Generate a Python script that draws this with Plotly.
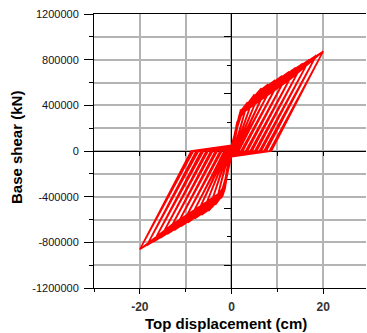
import plotly.graph_objects as go

# ---- data (forces in kN, displacements in cm) ----
amp = [2, 3.5, 5, 6.5, 8, 9.5, 11, 12.5, 14, 15.5, 17, 18.5, 20]
pos_peak = [360000, 427000, 495000, 549000, 585000, 621000, 657000, 693000, 729000, 765000, 801000, 837000, 872000]
# cycle 1 reloading branch
pos_knee_x = [1.2, 1.6, 1.9, 2.0, 2.1, 2.1, 2.2, 2.2, 2.2, 2.3, 2.3, 2.3, 2.4]
pos_knee_f = [250000, 300000, 330000, 340000, 350000, 350000, 355000, 355000, 360000, 360000, 360000, 365000, 365000]
pos_mid_x = [1.6, 2.6, 3.5, 4.3, 5.1, 5.8, 6.6, 7.4, 8.1, 8.9, 9.6, 10.4, 11.1]
pos_mid_f = [300000, 370000, 405000, 440000, 475000, 500000, 520000, 540000, 560000, 580000, 600000, 620000, 640000]
pos_res = [0.2, 0.4, 0.6, 0.8, 1.0, 1.3, 2.1, 3.1, 4.1, 5.1, 6.1, 7.1, 8.3]
# cycle 2 (softer) reloading branch
pos_knee2_x = [1.0, 1.4, 1.7, 1.8, 1.9, 2.0, 2.0, 2.1, 2.1, 2.2, 2.2, 2.2, 2.3]
pos_knee2_f = [200000, 260000, 290000, 300000, 310000, 315000, 320000, 320000, 325000, 325000, 330000, 330000, 330000]
pos_mid2_x = [1.5, 2.8, 3.8, 4.8, 5.8, 6.7, 7.6, 8.5, 9.4, 10.3, 11.2, 12.1, 13.0]
pos_mid2_f = [290000, 350000, 390000, 420000, 450000, 475000, 500000, 520000, 540000, 565000, 590000, 610000, 635000]
pos_res2 = [0.35, 0.6, 0.8, 1.0, 1.3, 1.6, 2.5, 3.5, 4.5, 5.5, 6.5, 7.6, 8.7]
# cycle 3 reloading branch, through the previous peak
pos_via_x = [1.5, 2.0, 3.5, 5.0, 6.5, 8.0, 9.5, 11.0, 12.5, 14.0, 15.5, 17.0, 18.5]
pos_via_f = [280000, 350000, 415000, 480000, 535000, 572000, 608000, 645000, 680000, 716000, 752000, 788000, 824000]
pos_res3 = [0.3, 0.5, 0.7, 0.9, 1.15, 1.45, 2.3, 3.3, 4.3, 5.3, 6.3, 7.35, 8.5]
# cycle 4 reloading branch (two intermediate points)
pos_a_x = [1.4, 2.2, 2.8, 3.4, 4.0, 4.6, 5.2, 5.8, 6.4, 7.0, 7.6, 8.2, 8.8]
pos_a_f = [260000, 329000, 356000, 383000, 410000, 437000, 464000, 491000, 507000, 521000, 536000, 550000, 565000]
pos_b_x = [1.7, 2.8, 3.9, 5.0, 6.1, 7.2, 8.3, 9.4, 10.5, 11.6, 12.7, 13.8, 15.0]
pos_b_f = [315000, 381000, 430000, 480000, 525000, 551000, 578000, 604000, 630000, 657000, 683000, 710000, 738000]
pos_res4 = [0.25, 0.45, 0.65, 0.85, 1.1, 1.4, 2.2, 3.2, 4.2, 5.2, 6.2, 7.25, 8.4]
pinch_neg = [-20000, -25000, -30000, -35000, -40000, -45000, -50000, -50000, -50000, -50000, -50000, -50000, -50000]

neg_amp = [-2, -3.5, -5, -6.5, -8, -9.5, -11, -12.5, -14, -15.5, -17, -18.5, -20]
neg_peak = [-400000, -470000, -525000, -560000, -593000, -627000, -660000, -694000, -728000, -761000, -795000, -828000, -862000]
neg_knee_x = [-1.3, -1.6, -1.8, -1.9, -2.0, -2.0, -2.1, -2.1, -2.2, -2.2, -2.2, -2.3, -2.3]
neg_knee_f = [-300000, -340000, -370000, -380000, -390000, -395000, -400000, -400000, -405000, -405000, -410000, -410000, -410000]
neg_mid_x = [-1.7, -2.6, -3.5, -4.3, -5.1, -5.8, -6.6, -7.4, -8.1, -8.9, -9.6, -10.4, -11.1]
neg_mid_f = [-350000, -405000, -445000, -480000, -503000, -520000, -537000, -555000, -570000, -588000, -605000, -622000, -640000]
neg_res = [-0.2, -0.4, -0.6, -0.8, -1.0, -1.3, -2.1, -3.1, -4.1, -5.1, -6.1, -7.2, -8.3]
neg_knee2_x = [-1.1, -1.4, -1.6, -1.7, -1.8, -1.9, -1.9, -2.0, -2.0, -2.1, -2.1, -2.1, -2.2]
neg_knee2_f = [-250000, -290000, -320000, -330000, -340000, -345000, -350000, -350000, -355000, -355000, -360000, -360000, -360000]
neg_mid2_x = [-1.6, -2.8, -3.8, -4.8, -5.8, -6.7, -7.6, -8.5, -9.4, -10.3, -11.2, -12.1, -13.0]
neg_mid2_f = [-330000, -380000, -420000, -450000, -475000, -500000, -520000, -540000, -560000, -580000, -600000, -620000, -645000]
neg_res2 = [-0.35, -0.6, -0.8, -1.0, -1.3, -1.6, -2.5, -3.5, -4.5, -5.5, -6.6, -7.7, -8.8]
neg_via_x = [-1.5, -2.0, -3.5, -5.0, -6.5, -8.0, -9.5, -11.0, -12.5, -14.0, -15.5, -17.0, -18.5]
neg_via_f = [-330000, -390000, -460000, -515000, -550000, -583000, -617000, -650000, -684000, -718000, -751000, -785000, -818000]
neg_res3 = [-0.3, -0.5, -0.7, -0.9, -1.15, -1.45, -2.3, -3.3, -4.3, -5.3, -6.35, -7.45, -8.55]
neg_a_x = [-1.4, -2.2, -2.8, -3.4, -4.0, -4.6, -5.2, -5.8, -6.4, -7.0, -7.6, -8.2, -8.8]
neg_a_f = [-330000, -370000, -397000, -424000, -451000, -477000, -490000, -504000, -517000, -531000, -544000, -558000, -571000]
neg_b_x = [-1.7, -2.8, -3.9, -5.0, -6.1, -7.2, -8.3, -9.4, -10.5, -11.6, -12.7, -13.8, -15.0]
neg_b_f = [-365000, -422000, -471000, -511000, -536000, -560000, -585000, -610000, -634000, -659000, -683000, -708000, -735000]
neg_res4 = [-0.25, -0.45, -0.65, -0.85, -1.1, -1.4, -2.2, -3.2, -4.2, -5.2, -6.2, -7.3, -8.45]
pinch_pos = [20000, 25000, 30000, 35000, 40000, 45000, 50000, 50000, 50000, 50000, 50000, 50000, 50000]

x_tick_vals = [-20, 0, 20]
x_tick_text = ["-20", "0", "20"]
y_tick_vals = [-1200000, -800000, -400000, 0, 400000, 800000, 1200000]
y_tick_text = ["-1200000", "-800000", "-400000", "0", "400000", "800000", "1200000"]

# ---- assemble the hysteresis path (four cycles per amplitude) ----
xs, ys = [0.0], [0.0]
for i in range(len(amp)):
    xs += [pos_knee_x[i], pos_mid_x[i], amp[i], pos_res[i], 0.0,
           neg_knee_x[i], neg_mid_x[i], neg_amp[i], neg_res[i], 0.0]
    ys += [pos_knee_f[i], pos_mid_f[i], pos_peak[i], 0.0, pinch_neg[i],
           neg_knee_f[i], neg_mid_f[i], neg_peak[i], 0.0, pinch_pos[i]]
    xs += [pos_knee_x[i], pos_via_x[i], amp[i], pos_res3[i], 0.0,
           neg_knee_x[i], neg_via_x[i], neg_amp[i], neg_res3[i], 0.0]
    ys += [pos_knee_f[i], pos_via_f[i], pos_peak[i], 0.0, pinch_neg[i],
           neg_knee_f[i], neg_via_f[i], neg_peak[i], 0.0, pinch_pos[i]]
    xs += [pos_knee2_x[i], pos_a_x[i], pos_b_x[i], amp[i], pos_res4[i], 0.0,
           neg_knee2_x[i], neg_a_x[i], neg_b_x[i], neg_amp[i], neg_res4[i], 0.0]
    ys += [pos_knee2_f[i], pos_a_f[i], pos_b_f[i], pos_peak[i], 0.0, pinch_neg[i],
           neg_knee2_f[i], neg_a_f[i], neg_b_f[i], neg_peak[i], 0.0, pinch_pos[i]]
    xs += [pos_knee2_x[i], pos_mid2_x[i], amp[i], pos_res2[i], 0.0,
           neg_knee2_x[i], neg_mid2_x[i], neg_amp[i], neg_res2[i], 0.0]
    ys += [pos_knee2_f[i], pos_mid2_f[i], pos_peak[i], 0.0, pinch_neg[i],
           neg_knee2_f[i], neg_mid2_f[i], neg_peak[i], 0.0, pinch_pos[i]]

font = "Arial, Liberation Sans, sans-serif"
fig = go.Figure()
fig.add_trace(go.Scatter(x=xs, y=ys, mode="lines",
                         line=dict(color="#ff0000", width=1.6),
                         showlegend=False, hoverinfo="skip"))
fig.add_trace(go.Scatter(x=[None], y=[None], xaxis="x2", yaxis="y2",
                         showlegend=False, hoverinfo="skip"))

xr = [-30, 29.35]
yr = [-1200000, 1200000]
grid_c = "#b4b4b4"
fig.update_layout(
    width=367, height=333,
    margin=dict(l=94, r=1, t=14, b=45),
    paper_bgcolor="white", plot_bgcolor="white",
    xaxis=dict(range=xr, tickmode="array", tickvals=x_tick_vals, ticktext=x_tick_text,
               ticks="outside", ticklen=5, tickwidth=1, tickcolor="black", ticklabelstandoff=3,
               showline=True, linecolor="black", linewidth=1, mirror=True,
               showgrid=True, gridcolor=grid_c, gridwidth=1.5,
               zeroline=True, zerolinecolor="black", zerolinewidth=1,
               minor=dict(tickmode="linear", tick0=0, dtick=10, ticks="outside", ticklen=3,
                          tickcolor="black", showgrid=True, gridcolor=grid_c, gridwidth=1.5),
               tickfont=dict(family=font, size=12, color="#333333", weight="bold"),
               automargin=False, fixedrange=True),
    yaxis=dict(range=yr, tickmode="array", tickvals=y_tick_vals, ticktext=y_tick_text,
               ticks="outside", ticklen=9, tickwidth=1, tickcolor="black", ticklabelstandoff=3,
               showline=True, linecolor="black", linewidth=1, mirror=False,
               showgrid=True, gridcolor=grid_c, gridwidth=1.5,
               zeroline=True, zerolinecolor="black", zerolinewidth=1,
               minor=dict(tickmode="linear", tick0=0, dtick=200000, ticks="outside", ticklen=4,
                          tickcolor="black", showgrid=True, gridcolor=grid_c, gridwidth=1.5),
               tickfont=dict(family=font, size=11, color="#111122"),
               automargin=False, fixedrange=True),
    xaxis2=dict(range=xr, overlaying="x", anchor="free", position=0.5, side="bottom",
                tickmode="array", tickvals=[-20, -10, 10, 20], ticks="outside", ticklen=4,
                tickcolor="black", showticklabels=False, showline=False, showgrid=False,
                zeroline=False, automargin=False, fixedrange=True),
    yaxis2=dict(range=yr, overlaying="y", anchor="free", position=30 / 59.35, side="left",
                tickmode="array", tickvals=[-1000000, -500000, 500000, 1000000],
                ticks="outside", ticklen=7, tickcolor="black",
                minor=dict(tickmode="array", tickvals=[-750000, -250000, 250000, 750000],
                           ticks="outside", ticklen=4, tickcolor="black", showgrid=False),
                showticklabels=False, showline=False, showgrid=False,
                zeroline=False, automargin=False, fixedrange=True),
    annotations=[
        dict(text="Top displacement (cm)", xref="paper", yref="paper",
             x=(226 - 94) / 272, y=(288 - 323) / 274, xanchor="center", yanchor="middle",
             showarrow=False, font=dict(family=font, size=15, color="black", weight="bold")),
        dict(text="Base shear (kN)", xref="paper", yref="paper",
             x=(16 - 94) / 272, y=(288 - 148) / 274, xanchor="center", yanchor="middle",
             textangle=-90, showarrow=False,
             font=dict(family=font, size=15, color="black", weight="bold")),
    ],
)
fig.write_html("out.html", config={"displayModeBar": False},
               post_script="document.body.style.margin='0';document.body.style.padding='0';")
